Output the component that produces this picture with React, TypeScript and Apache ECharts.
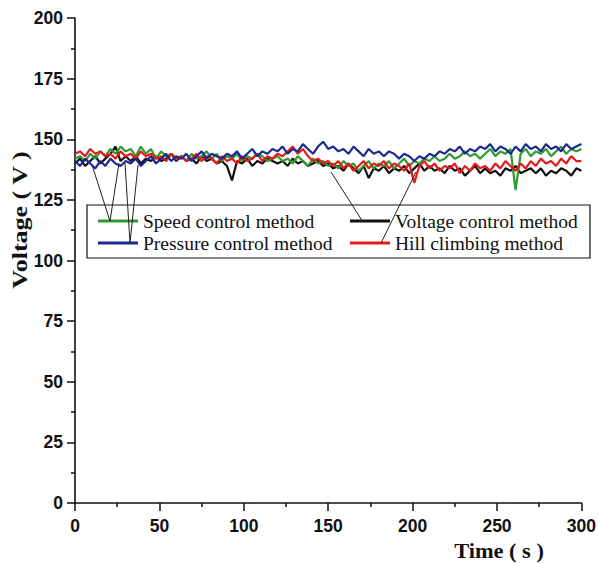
import React, { useEffect, useRef } from "react";
import * as echarts from "echarts";

const times: number[] = Array.from({ length: 101 }, (_, i) => i * 3);

const speedControl: number[] = [
  142, 143, 141, 144, 142, 145, 143, 146, 144, 147, 145,
  146, 143, 147, 144, 146, 142, 145, 143, 144, 142,
  143, 141, 144, 142, 143, 145, 142, 144, 141, 143,
  142, 144, 141, 143, 142, 144, 143, 141, 142, 143,
  141, 142, 140, 143, 141, 139, 142, 140, 141, 139,
  140, 138, 141, 139, 140, 137, 139, 141, 138, 140,
  139, 141, 138, 140, 142, 139, 141, 140, 142, 141,
  143, 141, 142, 144, 142, 143, 145, 143, 144, 142,
  144, 146, 143, 145, 144, 146, 129, 144, 146, 143,
  145, 144, 146, 143, 145, 147, 144, 146, 145, 146,
];

const pressureControl: number[] = [
  141, 139, 142, 140, 138, 141, 139, 142, 140, 139, 141,
  140, 142, 139, 141, 143, 140, 142, 144, 141, 143,
  142, 144, 141, 143, 145, 142, 144, 143, 142, 144,
  143, 145, 142, 144, 146, 143, 145, 144, 146, 145,
  147, 144, 146, 145, 148, 146, 144, 147, 149, 146,
  147, 145, 146, 144, 147, 145, 143, 146, 144, 145,
  143, 145, 144, 142, 144, 143, 141, 143, 142, 144,
  143, 145, 144, 146, 145, 147, 144, 146, 145, 147,
  146, 148, 145, 147, 146, 144, 147, 145, 148, 146,
  147, 145, 148, 146, 147, 145, 148, 146, 147, 148,
];

const voltageControl: number[] = [
  140, 142, 139, 141, 143, 140, 142, 144, 147, 141, 143,
  141, 143, 140, 142, 141, 143, 141, 142, 144, 141,
  143, 141, 142, 140, 143, 141, 142, 140, 141, 139,
  133, 141, 140, 142, 139, 141, 140, 142, 141, 140,
  141, 139, 142, 140, 141, 139, 140, 141, 139, 140,
  138, 139, 137, 140, 138, 136, 139, 134, 138, 137,
  139, 136, 138, 137, 139, 136, 138, 140, 137, 139,
  137, 138, 136, 139, 137, 138, 135, 137, 139, 136,
  138, 136, 137, 135, 138, 137, 139, 136, 137, 138,
  136, 138, 135, 137, 136, 138, 137, 135, 138, 137,
];

const hillClimbing: number[] = [
  144, 145, 143, 146, 144, 145, 143, 144, 142, 145, 143,
  144, 142, 145, 143, 144, 142, 143, 141, 144, 142,
  143, 141, 142, 144, 141, 143, 142, 140, 143, 141,
  142, 140, 143, 141, 142, 144, 141, 143, 142, 144,
  143, 145, 147, 144, 146, 143, 141, 142, 140, 141,
  139, 141, 138, 140, 137, 139, 141, 138, 140, 139,
  141, 138, 140, 139, 137, 140, 132, 139, 141, 138,
  140, 137, 139, 138, 140, 136, 139, 137, 140, 138,
  139, 137, 140, 138, 141, 139, 137, 140, 138, 141,
  139, 142, 140, 141, 139, 142, 140, 143, 141, 141,
];

const seriesNames = [
  "Speed control method",
  "Pressure control method",
  "Voltage control method",
  "Hill climbing method",
];
const seriesColors = ["#2f9a2f", "#1b2a8f", "#111111", "#e8191b"];

const toPairs = (vals: number[]) => vals.map((v, i) => [times[i], v]);

export default function App() {
  const ref = useRef<HTMLDivElement>(null);
  useEffect(() => {
    if (!ref.current) return;
    const chart = echarts.init(ref.current, null, { renderer: "svg" });
    const axisLabelStyle = {
      fontFamily: "'Liberation Sans Narrow', 'Liberation Sans', Arial, sans-serif",
      fontWeight: "bold" as const,
      fontSize: 17.5,
      color: "#111",
    };
    const legendText = {
      fontFamily: "'Liberation Serif', 'Times New Roman', serif",
      fontSize: 19.5,
      color: "#111",
      lineHeight: 22,
    };
    const allData = [speedControl, pressureControl, voltageControl, hillClimbing];
    const drawOrder = [2, 0, 3, 1];
    chart.setOption({
      animation: false,
      backgroundColor: "#fff",
      grid: { left: 75, right: 14, top: 18, bottom: 61, containLabel: false },
      xAxis: {
        type: "value",
        min: 0,
        max: 300,
        interval: 50,
        axisLine: { show: true, lineStyle: { color: "#111", width: 1.6 } },
        axisTick: { show: true, length: 8, lineStyle: { color: "#111", width: 1.5 } },
        minorTick: { show: true, splitNumber: 2, length: 4, lineStyle: { color: "#111", width: 1.5 } },
        splitLine: { show: false },
        axisLabel: { ...axisLabelStyle, margin: 14 },
      },
      yAxis: {
        type: "value",
        min: 0,
        max: 200,
        interval: 25,
        axisLine: { show: true, lineStyle: { color: "#111", width: 1.6 } },
        axisTick: { show: true, length: 8, lineStyle: { color: "#111", width: 1.5 } },
        minorTick: { show: true, splitNumber: 2, length: 4, lineStyle: { color: "#111", width: 1.5 } },
        splitLine: { show: false },
        axisLabel: { ...axisLabelStyle, margin: 12 },
      },
      legend: [
        {
          data: [seriesNames[0], seriesNames[1]],
          orient: "vertical",
          left: 98,
          top: 210,
          padding: 0,
          itemGap: 0,
          itemWidth: 40,
          itemHeight: 3,
          icon: "rect",
          selectedMode: false,
          textStyle: legendText,
        },
        {
          data: [seriesNames[2], seriesNames[3]],
          orient: "vertical",
          left: 350,
          top: 210,
          padding: 0,
          itemGap: 0,
          itemWidth: 40,
          itemHeight: 3,
          icon: "rect",
          selectedMode: false,
          textStyle: legendText,
        },
      ],
      graphic: [
        {
          type: "rect",
          shape: { x: 87, y: 205, width: 503, height: 53 },
          style: { fill: "none", stroke: "#111", lineWidth: 1.2 },
          z: 1,
        },
        { type: "line", shape: { x1: 92, y1: 165, x2: 110, y2: 221 }, style: { stroke: "#222", lineWidth: 1 }, z: 5 },
        { type: "line", shape: { x1: 119, y1: 163, x2: 110, y2: 221 }, style: { stroke: "#222", lineWidth: 1 }, z: 5 },
        { type: "line", shape: { x1: 125, y1: 163, x2: 130, y2: 243 }, style: { stroke: "#222", lineWidth: 1 }, z: 5 },
        { type: "line", shape: { x1: 138, y1: 165, x2: 130, y2: 243 }, style: { stroke: "#222", lineWidth: 1 }, z: 5 },
        { type: "line", shape: { x1: 331, y1: 172, x2: 363, y2: 222 }, style: { stroke: "#222", lineWidth: 1 }, z: 5 },
        { type: "line", shape: { x1: 416, y1: 172, x2: 381, y2: 243 }, style: { stroke: "#222", lineWidth: 1 }, z: 5 },
        {
          type: "text",
          x: 20,
          y: 220,
          rotation: Math.PI / 2,
          scaleX: 1.3,
          style: {
            text: "Voltage ( V )",
            font: "bold 20px 'Liberation Serif', 'Times New Roman', serif",
            fill: "#111",
            align: "center",
            verticalAlign: "middle",
          },
        },
        {
          type: "text",
          x: 499,
          y: 551,
          scaleX: 1.12,
          style: {
            text: "Time ( s )",
            font: "bold 20px 'Liberation Serif', 'Times New Roman', serif",
            fill: "#111",
            align: "center",
            verticalAlign: "middle",
          },
        },
      ],
      series: drawOrder.map((idx, k) => ({
        name: seriesNames[idx],
        type: "line",
        data: toPairs(allData[idx]),
        showSymbol: false,
        symbol: "none",
        z: 2 + k,
        lineStyle: { color: seriesColors[idx], width: 2.2 },
        itemStyle: { color: seriesColors[idx] },
      })),
    });
    return () => chart.dispose();
  }, []);
  return <div ref={ref} style={{ width: 599, height: 564, position: "absolute", left: 0, top: 0 }} />;
}
